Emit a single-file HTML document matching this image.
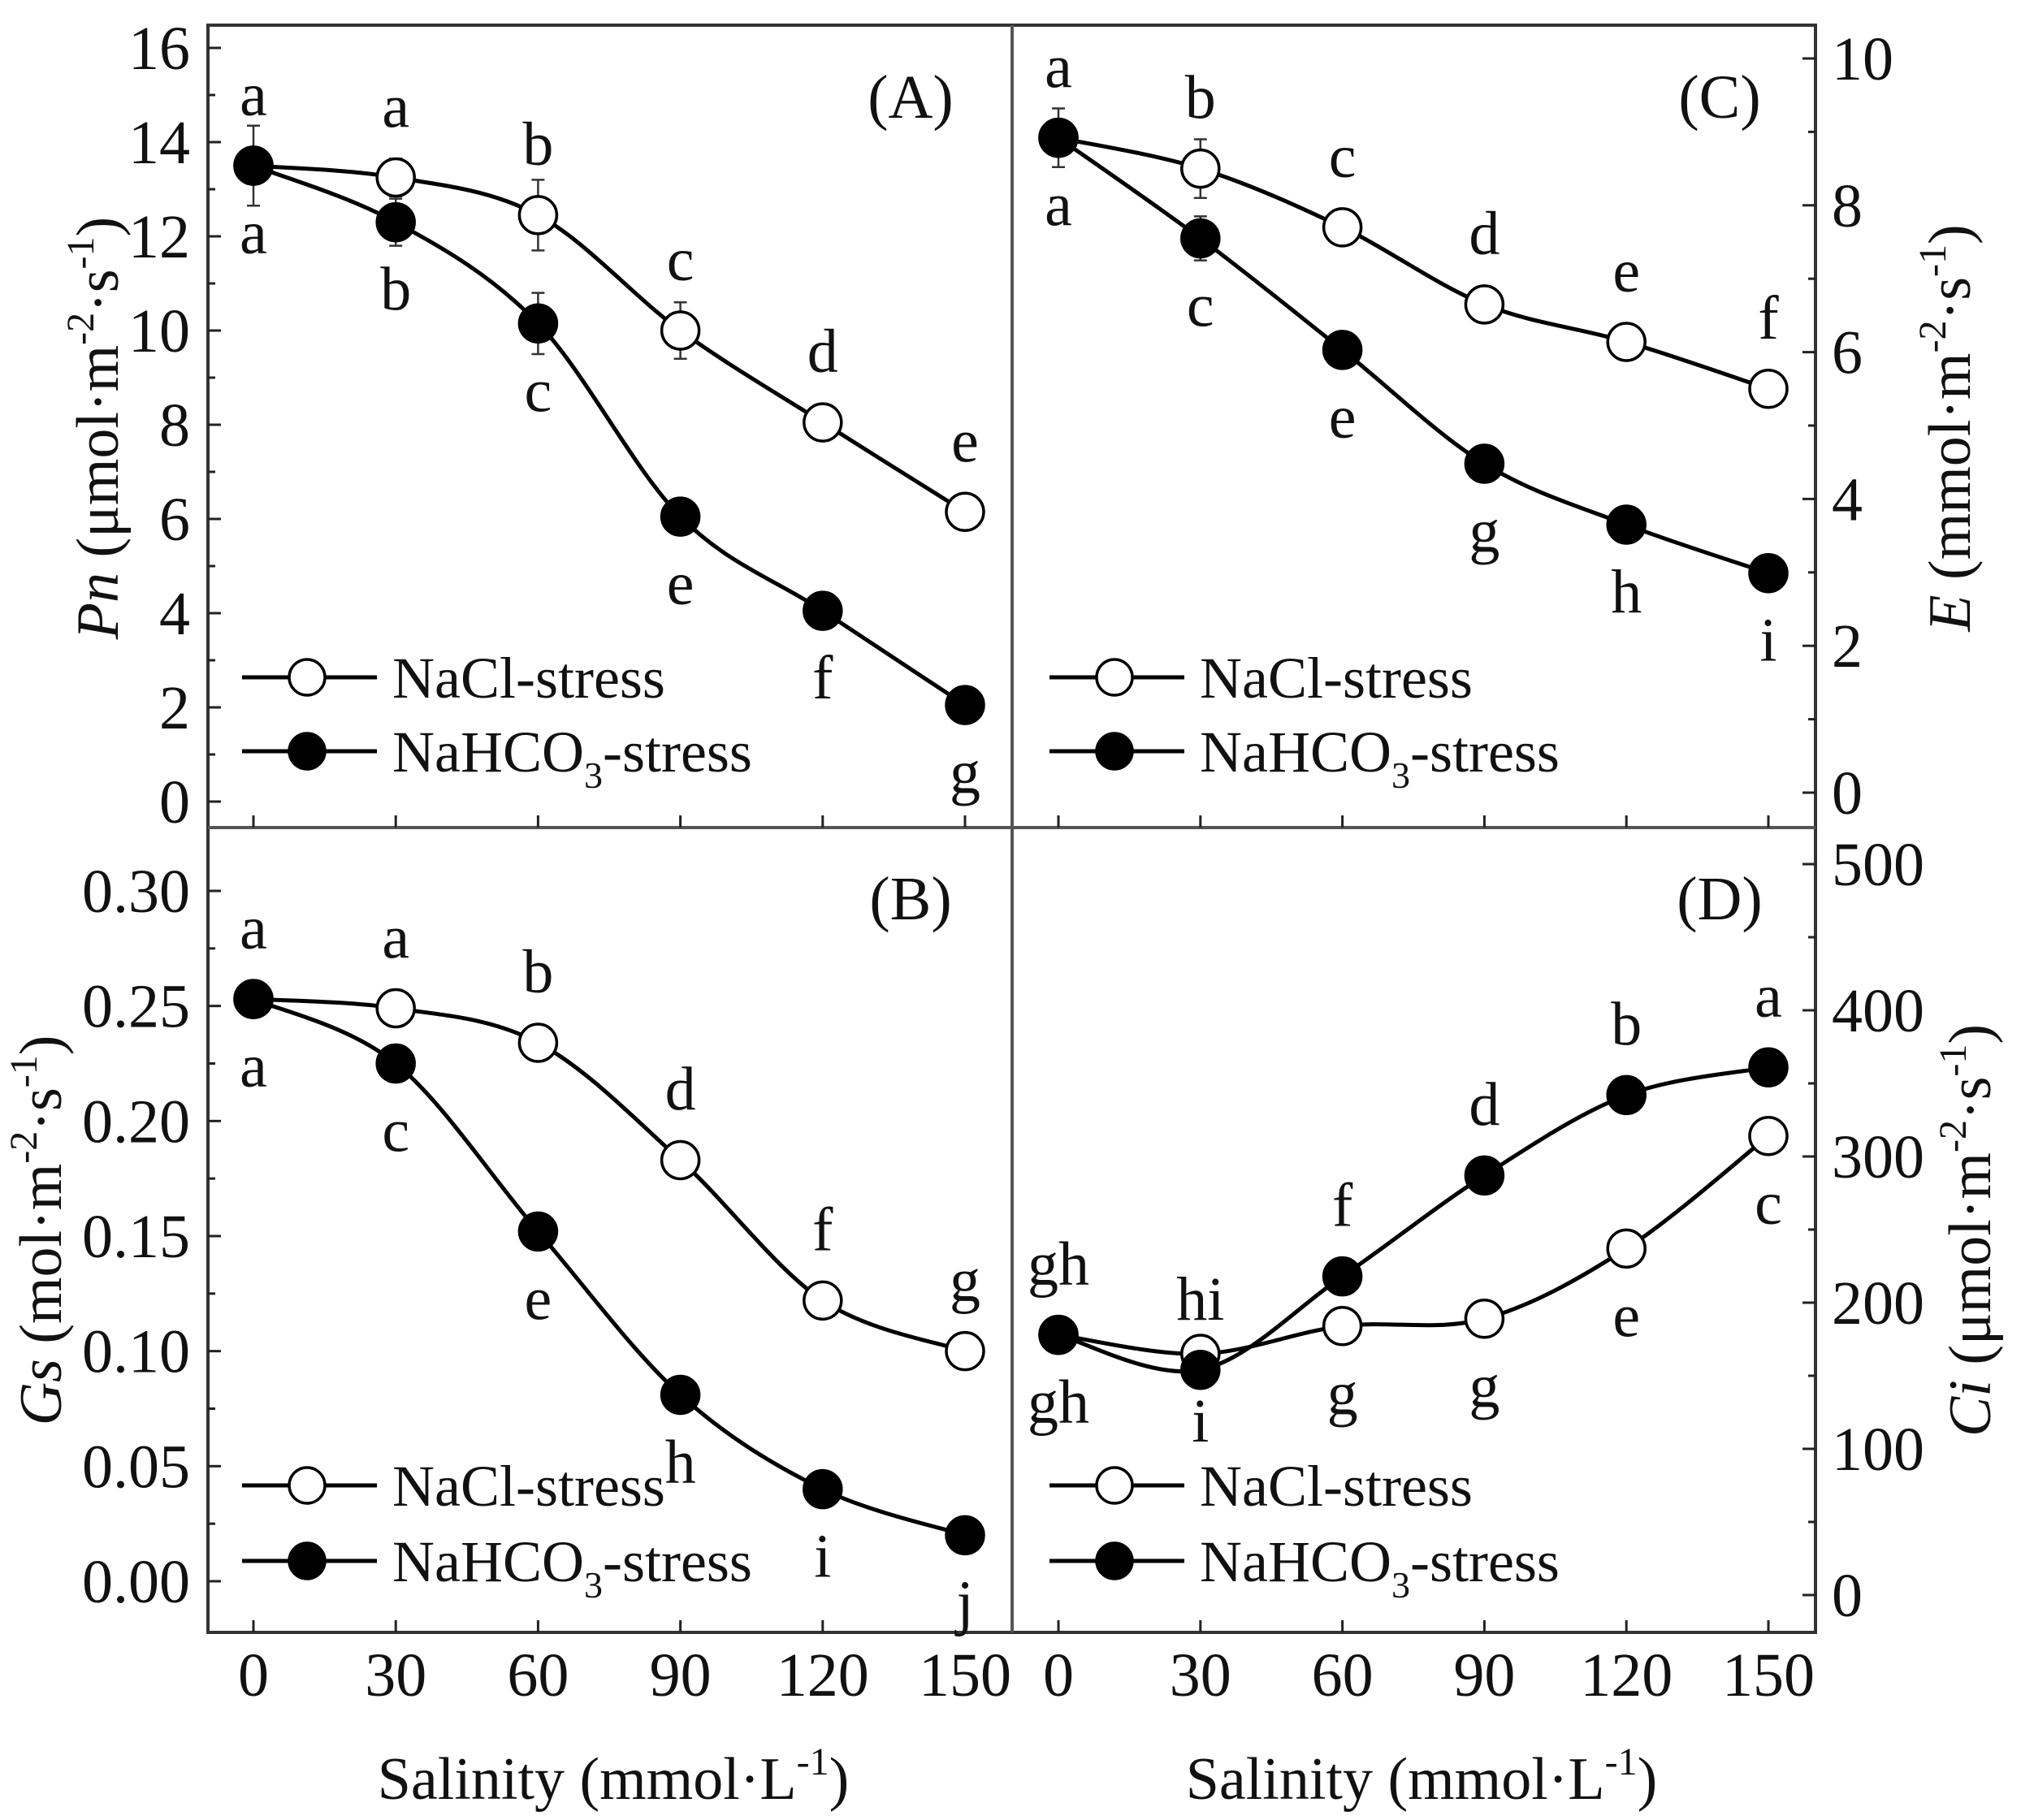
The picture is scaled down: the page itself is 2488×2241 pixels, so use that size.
<!DOCTYPE html>
<html><head><meta charset="utf-8"><style>
html,body{margin:0;padding:0;background:#fff}
svg{display:block}
text{font-family:"Liberation Serif",serif;fill:#111}
</style></head><body>
<svg id="chart" width="2488" height="2241" viewBox="0 0 2488 2241" xmlns="http://www.w3.org/2000/svg">
<g id="frame">
<rect x="256" y="31" width="1979" height="1979" fill="none" stroke="#333" stroke-width="4"/>
<line x1="1246" y1="31" x2="1246" y2="2010" stroke="#555" stroke-width="4"/>
<line x1="256" y1="1019" x2="2235" y2="1019" stroke="#555" stroke-width="4"/>
</g>
<text x="755" y="2215" font-size="74" text-anchor="middle">Salinity (mmol·L<tspan font-size="48" dy="-30">-1</tspan><tspan dy="30">)</tspan></text>
<text x="1750" y="2215" font-size="74" text-anchor="middle">Salinity (mmol·L<tspan font-size="48" dy="-30">-1</tspan><tspan dy="30">)</tspan></text>
<text transform="translate(145,527) rotate(-90)" font-size="74" text-anchor="middle"><tspan font-style="italic">Pn</tspan> (μmol·m<tspan font-size="48" dy="-30">-2</tspan><tspan dy="30">·s</tspan><tspan font-size="48" dy="-30">-1</tspan><tspan dy="30">)</tspan></text>
<text transform="translate(75,1515) rotate(-90)" font-size="74" text-anchor="middle"><tspan font-style="italic">Gs</tspan> (mol·m<tspan font-size="48" dy="-30">-2</tspan><tspan dy="30">·s</tspan><tspan font-size="48" dy="-30">-1</tspan><tspan dy="30">)</tspan></text>
<text transform="translate(2425,527) rotate(-90)" font-size="74" text-anchor="middle"><tspan font-style="italic">E</tspan> (mmol·m<tspan font-size="48" dy="-30">-2</tspan><tspan dy="30">·s</tspan><tspan font-size="48" dy="-30">-1</tspan><tspan dy="30">)</tspan></text>
<text transform="translate(2450,1515) rotate(-90)" font-size="74" text-anchor="middle"><tspan font-style="italic">Ci</tspan> (μmol·m<tspan font-size="48" dy="-30">-2</tspan><tspan dy="30">·s</tspan><tspan font-size="48" dy="-30">-1</tspan><tspan dy="30">)</tspan></text>
</svg>
<script>
const categories=[0,30,60,90,120,150];
const xTickLabels=["0","30","60","90","120","150"];
// Panel A (Pn)
const pnNaCl=[13.5,13.25,12.45,10.0,8.05,6.15];
const pnNaClErr=[0.3,0.4,0.75,0.6,0.2,0.35];
const pnNaHCO3=[13.5,12.3,10.15,6.05,4.05,2.05];
const pnNaHCO3Err=[0.85,0.5,0.65,0.2,0.15,0.15];
const pnNaClLetters=["a","a","b","c","d","e"];
const pnNaHCO3Letters=["a","b","c","e","f","g"];
const pnTicks=[0,2,4,6,8,10,12,14,16];
// Panel C (E)
const eNaCl=[8.92,8.5,7.7,6.65,6.14,5.5];
const eNaClErr=[0.2,0.4,0.1,0.2,0.1,0.15];
const eNaHCO3=[8.92,7.55,6.03,4.48,3.65,2.99];
const eNaHCO3Err=[0.4,0.3,0.1,0.1,0.1,0.1];
const eNaClLetters=["a","b","c","d","e","f"];
const eNaHCO3Letters=["a","c","e","g","h","i"];
const eTicks=[0,2,4,6,8,10];
// Panel B (Gs)
const gsNaCl=[0.253,0.249,0.234,0.183,0.122,0.100];
const gsNaClErr=[0.004,0.008,0.005,0.005,0.006,0.006];
const gsNaHCO3=[0.253,0.225,0.152,0.081,0.040,0.020];
const gsNaHCO3Err=[0.004,0.008,0.004,0.003,0.003,0.002];
const gsNaClLetters=["a","a","b","d","f","g"];
const gsNaHCO3Letters=["a","c","e","h","i","j"];
const gsTicks=[0,0.05,0.10,0.15,0.20,0.25,0.30];
const gsTickLabels=["0.00","0.05","0.10","0.15","0.20","0.25","0.30"];
// Panel D (Ci)
const ciNaCl=[178,165,184,189,237,314];
const ciNaClErr=[5,8,8,5,5,8];
const ciNaHCO3=[178,154,218,287,342,361];
const ciNaHCO3Err=[5,5,6,10,6,10];
const ciNaHCO3Letters=["gh","hi","f","d","b","a"];
const ciNaClLetters=["gh","i","g","g","e","c"];
const ciTicks=[0,100,200,300,400,500];

const NS="http://www.w3.org/2000/svg";
const svg=document.getElementById('chart');
function el(tag,attrs,parent){const e=document.createElementNS(NS,tag);for(const k in attrs)e.setAttribute(k,attrs[k]);(parent||svg).appendChild(e);return e;}

function smoothPath(pts){
  let d="M"+pts[0][0]+","+pts[0][1];
  for(let i=0;i<pts.length-1;i++){
    const p0=pts[Math.max(i-1,0)],p1=pts[i],p2=pts[i+1],p3=pts[Math.min(i+2,pts.length-1)];
    const c1=[p1[0]+(p2[0]-p0[0])/6,p1[1]+(p2[1]-p0[1])/6];
    const c2=[p2[0]-(p3[0]-p1[0])/6,p2[1]-(p3[1]-p1[1])/6];
    d+=" C"+c1[0]+","+c1[1]+" "+c2[0]+","+c2[1]+" "+p2[0]+","+p2[1];
  }
  return d;
}

function panel(cfg){
  const g=el('g',{});
  
  
  const xs=v=>cfg.x0+(cfg.x1-cfg.x0)*v/150;
  const ys=v=>cfg.yA+(cfg.yB-cfg.yA)*(v-cfg.vA)/(cfg.vB-cfg.vA);
  categories.forEach((c,i)=>{
    const t=el('line',{x1:xs(c),x2:xs(c),y1:cfg.bottom,y2:cfg.bottom-15,stroke:'#222','stroke-width':3},g);
    
    
    if(cfg.xlabels){
      const tx=el('text',{x:xs(c),y:cfg.bottom+78,'font-size':76,'text-anchor':'middle'},g);
      tx.textContent=xTickLabels[i];
      
      
    }
  });
  const dir=cfg.side==='left'?1:-1;
  for(let k=0;k<cfg.ticks.length;k++){
    const v=cfg.ticks[k];
    const t=el('line',{x1:cfg.axisX,x2:cfg.axisX+dir*16,y1:ys(v),y2:ys(v),stroke:'#222','stroke-width':3},g);
    
    
    if(k<cfg.ticks.length-1){
      const mv=(v+cfg.ticks[k+1])/2;
      const m=el('line',{x1:cfg.axisX,x2:cfg.axisX+dir*9,y1:ys(mv),y2:ys(mv),stroke:'#222','stroke-width':3},g);
      
      
    }
    const tx=el('text',{x:cfg.side==='left'?cfg.axisX-22:cfg.axisX+20,y:ys(v)+26,'font-size':76,'text-anchor':cfg.side==='left'?'end':'start'},g);
    tx.textContent=cfg.tickLabels?cfg.tickLabels[k]:String(v);
    
    
  }
  const series=[
    {vals:cfg.open,err:cfg.openErr,fill:'#fff',name:'nacl'},
    {vals:cfg.filled,err:cfg.filledErr,fill:'#000',name:'nahco3'}
  ];
  series.forEach(s=>{
    const pts=categories.map((c,i)=>[xs(c),ys(s.vals[i])]);
    const p=el('path',{d:smoothPath(pts),fill:'none',stroke:'#000','stroke-width':5},g);
    
    
  });
  series.forEach(s=>{
    categories.forEach((c,i)=>{
      const x=xs(c),yt=ys(s.vals[i]+s.err[i]),yb=ys(s.vals[i]-s.err[i]);
      const e=el('path',{d:`M${x},${yt}V${yb}M${x-8},${yt}H${x+8}M${x-8},${yb}H${x+8}`,stroke:'#333','stroke-width':2.5,fill:'none'},g);
      
      
    });
  });
  series.forEach(s=>{
    categories.forEach((c,i)=>{
      const m=el('circle',{cx:xs(c),cy:ys(s.vals[i]),r:23,fill:s.fill,stroke:'#000','stroke-width':3.5},g);
      
      
    });
  });
  categories.forEach((c,i)=>{
    const a=el('text',{x:xs(c),y:ys(cfg.aboveVals[i])-62,'font-size':76,'text-anchor':'middle'},g);
    a.textContent=cfg.aboveLetters[i];
    
    
    const b=el('text',{x:xs(c),y:ys(cfg.belowVals[i])+108,'font-size':76,'text-anchor':'middle'},g);
    b.textContent=cfg.belowLetters[i];
    
    
  });
  const pl=el('text',{x:cfg.labelX,y:cfg.labelY,'font-size':76,'text-anchor':'middle'},g);
  pl.textContent=cfg.label;
  
  
  [[cfg.legY1,'#fff','NaCl-stress',false],[cfg.legY2,'#000','NaHCO',true]].forEach(L=>{
    const lg=el('g',{},g);
    
    
    el('line',{x1:cfg.legX,x2:cfg.legX+166,y1:L[0],y2:L[0],stroke:'#000','stroke-width':5},lg);
    el('circle',{cx:cfg.legX+80,cy:L[0],r:22,fill:L[1],stroke:'#000','stroke-width':3.5},lg);
    const t=el('text',{x:cfg.legX+185,y:L[0]+25,'font-size':72},lg);
    if(L[3]){
      t.textContent='NaHCO';
      const s1=el('tspan',{'font-size':46,dy:20},t);s1.textContent='3';
      const s2=el('tspan',{dy:-20},t);s2.textContent='-stress';
    } else t.textContent=L[2];
  });
}

panel({name:'panel-a-pn',x0:312,x1:1188,bottom:1019,side:'left',axisX:256,ticks:pnTicks,
  yA:987,yB:59,vA:0,vB:16,open:pnNaCl,openErr:pnNaClErr,filled:pnNaHCO3,filledErr:pnNaHCO3Err,
  aboveVals:pnNaCl,aboveLetters:pnNaClLetters,belowVals:pnNaHCO3,belowLetters:pnNaHCO3Letters,
  label:'(A)',labelX:1121,labelY:145,legX:298,legY1:834,legY2:925,xlabels:false});
panel({name:'panel-c-e',x0:1303,x1:2177,bottom:1019,side:'right',axisX:2235,ticks:eTicks,
  yA:976,yB:72,vA:0,vB:10,open:eNaCl,openErr:eNaClErr,filled:eNaHCO3,filledErr:eNaHCO3Err,
  aboveVals:eNaCl,aboveLetters:eNaClLetters,belowVals:eNaHCO3,belowLetters:eNaHCO3Letters,
  label:'(C)',labelX:2117,labelY:145,legX:1292,legY1:834,legY2:925,xlabels:false});
panel({name:'panel-b-gs',x0:312,x1:1188,bottom:2010,side:'left',axisX:256,ticks:gsTicks,tickLabels:gsTickLabels,
  yA:1947,yB:1097,vA:0,vB:0.30,open:gsNaCl,openErr:gsNaClErr,filled:gsNaHCO3,filledErr:gsNaHCO3Err,
  aboveVals:gsNaCl,aboveLetters:gsNaClLetters,belowVals:gsNaHCO3,belowLetters:gsNaHCO3Letters,
  label:'(B)',labelX:1121,labelY:1132,legX:298,legY1:1829,legY2:1922,xlabels:true});
panel({name:'panel-d-ci',x0:1303,x1:2177,bottom:2010,side:'right',axisX:2235,ticks:ciTicks,
  yA:1964,yB:1064,vA:0,vB:500,open:ciNaCl,openErr:ciNaClErr,filled:ciNaHCO3,filledErr:ciNaHCO3Err,
  aboveVals:ciNaHCO3,aboveLetters:ciNaHCO3Letters,belowVals:ciNaCl,belowLetters:ciNaClLetters,
  label:'(D)',labelX:2117,labelY:1132,legX:1292,legY1:1829,legY2:1922,xlabels:true});
</script>
</body></html>
